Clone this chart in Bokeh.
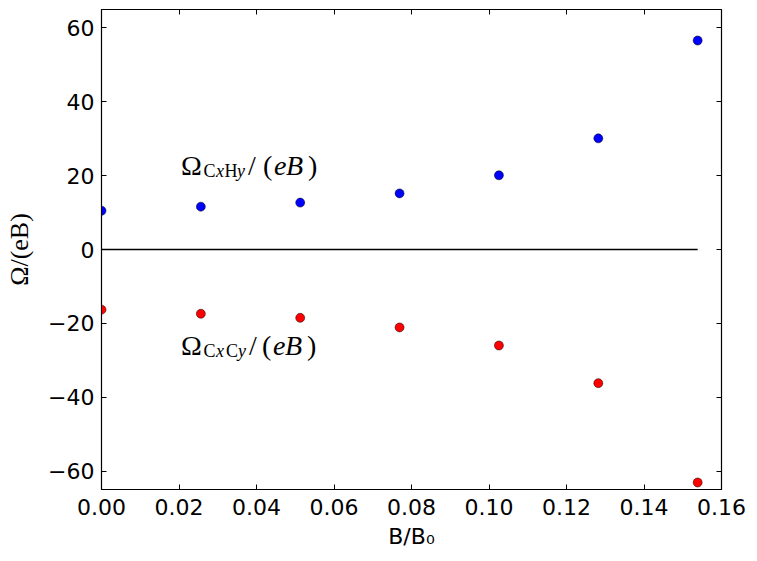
from bokeh.plotting import figure
from bokeh.models import Range1d, FixedTicker, PrintfTickFormatter, CustomJSTickFormatter, LinearAxis, ColumnDataSource
from bokeh.embed import file_html
from bokeh.resources import INLINE

# ---- data ----
b_ratio = [0.0, 0.02564, 0.05128, 0.07692, 0.10256, 0.12821, 0.15385]
omega_cxhy = [10.5, 11.6, 12.7, 15.2, 20.1, 30.1, 56.6]
omega_cxcy = [-16.3, -17.4, -18.5, -21.1, -26.0, -36.2, -63.1]
zero_line = [0.0, 0.0, 0.0, 0.0, 0.0, 0.0, 0.0]
x_ticks = [0.0, 0.02, 0.04, 0.06, 0.08, 0.10, 0.12, 0.14, 0.16]
y_ticks = [-60, -40, -20, 0, 20, 40, 60]

# annotation segments: (text, style, size_px, dx, dy)
label1_segments = [("Ω", "normal", 28, 0, 0), ("C", "normal", 18, 22.5, 5), ("x", "italic", 18, 35, 5),
                   ("H", "normal", 18, 43.5, 5), ("y", "italic", 18, 56, 5), ("/", "normal", 28, 67, 0),
                   ("(", "normal", 28, 82, 0), ("e", "italic", 28, 93, 0), ("B", "italic", 28, 105, 0),
                   (")", "normal", 28, 127, 0)]
label2_segments = [("Ω", "normal", 28, 0, 0), ("C", "normal", 18, 22.5, 5), ("x", "italic", 18, 35, 5),
                   ("C", "normal", 18, 45, 5), ("y", "italic", 18, 57, 5), ("/", "normal", 28, 68, 0),
                   ("(", "normal", 28, 81, 0), ("e", "italic", 28, 92, 0), ("B", "italic", 28, 104, 0),
                   (")", "normal", 28, 126, 0)]
label1_pos = (0.02, 22.7)
label2_pos = (0.02, -26.0)

W, H = 757, 561
p = figure(width=W, height=H, output_backend="svg", toolbar_location=None,
           x_range=Range1d(0, 0.16), y_range=Range1d(-65, 65),
           min_border_left=101, min_border_right=36, min_border_top=9, min_border_bottom=72)
p.background_fill_color = "white"
p.border_fill_color = "white"
p.xgrid.visible = False
p.ygrid.visible = False
p.outline_line_color = "black"
p.outline_line_width = 1.2

# zero line and points
p.line(b_ratio, zero_line, line_color="black", line_width=1.3)
p.scatter(b_ratio, omega_cxhy, size=9, fill_color="#0000ff", line_color="black", line_width=0.5)
p.scatter(b_ratio, omega_cxcy, size=9, fill_color="#ff0000", line_color="black", line_width=0.5)

# annotations
def seg_source(segments, pos):
    return ColumnDataSource(dict(
        x=[pos[0]] * len(segments), y=[pos[1]] * len(segments),
        text=[s[0] for s in segments], style=[s[1] for s in segments],
        size=["%dpx" % s[2] for s in segments], dx=[s[3] + 2 for s in segments],
        dy=[s[4] for s in segments]))

for segs, pos in ((label1_segments, label1_pos), (label2_segments, label2_pos)):
    src = seg_source(segs, pos)
    p.text(x="x", y="y", text="text", source=src, text_font_style="style", text_font_size="size",
           x_offset="dx", y_offset="dy", text_align="left", text_baseline="alphabetic",
           text_color="black", text_font={"value": "Liberation Serif"})

# axes styling
xa = p.xaxis[0]
ya = p.yaxis[0]
xa.ticker = FixedTicker(ticks=x_ticks)
ya.ticker = FixedTicker(ticks=y_ticks)
xa.formatter = PrintfTickFormatter(format="%.2f")
ya.formatter = CustomJSTickFormatter(code="return tick.toFixed(0).replace('-', '\u2212');")
for ax in (xa, ya):
    ax.major_tick_in = 5
    ax.major_tick_out = 0
    ax.minor_tick_line_color = None
    ax.axis_line_color = "black"
    ax.major_tick_line_color = "black"
    ax.major_label_text_font = "DejaVu Sans"
    ax.major_label_text_font_size = "22px"
    ax.major_label_text_color = "black"
    ax.axis_label_text_color = "black"
    ax.axis_label_text_font_style = "normal"
xa.major_label_standoff = 9
ya.major_label_standoff = 7
xa.axis_label = "B/B₀"
xa.axis_label_text_font = "DejaVu Sans"
xa.axis_label_text_font_size = "22px"
xa.axis_label_standoff = 6
ya.axis_label = "Ω/(eB)"
ya.axis_label_text_font = "Liberation Serif"
ya.axis_label_text_font_size = "26px"
ya.axis_label_standoff = 11

blank = CustomJSTickFormatter(code="return '';")
top = LinearAxis(ticker=FixedTicker(ticks=x_ticks), formatter=blank)
right = LinearAxis(ticker=FixedTicker(ticks=y_ticks), formatter=blank)
for ax in (top, right):
    ax.major_tick_in = 5
    ax.major_tick_out = 0
    ax.minor_tick_line_color = None
    ax.axis_line_color = "black"
    ax.major_label_standoff = 0
    ax.major_label_text_font_size = "1px"
p.add_layout(top, "above")
p.add_layout(right, "right")

open("out.html", "w").write(file_html(p, INLINE))
